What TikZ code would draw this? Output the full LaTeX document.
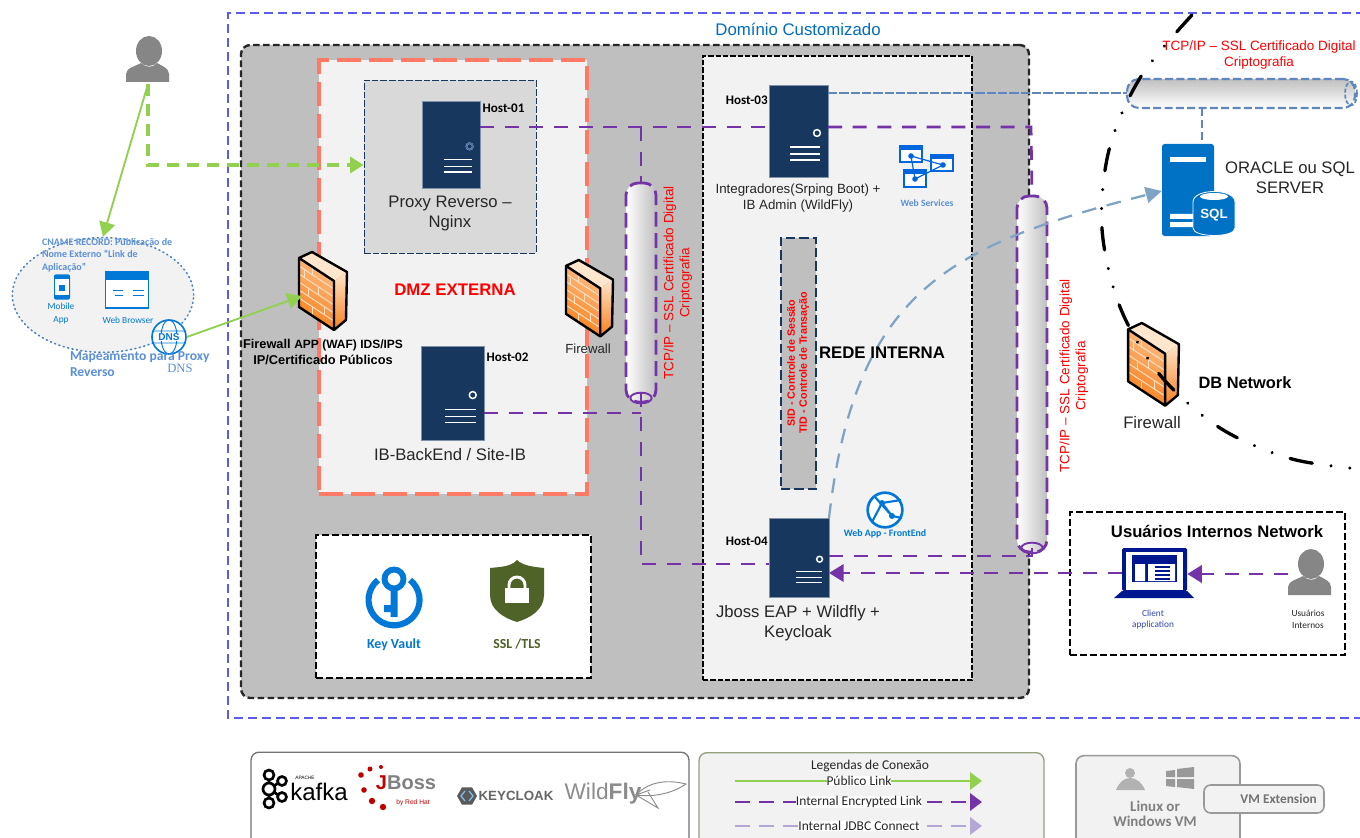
\documentclass[tikz,border=0pt]{standalone}
\usepackage{fontspec}
\setmainfont{Liberation Sans}
\newfontfamily\calib{Carlito}
\newfontfamily\dejaser{Liberation Serif}
\usetikzlibrary{arrows.meta,shapes.geometric,calc}
\definecolor{navy}{HTML}{17375E}
\definecolor{grayfill}{HTML}{BFBFBF}
\definecolor{panel}{HTML}{F2F2F2}
\definecolor{salmon}{HTML}{FF7A66}
\definecolor{domblue}{HTML}{5B5BF0}
\definecolor{purp}{HTML}{7434A8}
\definecolor{lpurp}{HTML}{B4A7D6}
\definecolor{grn}{HTML}{92D050}
\definecolor{jdbc}{HTML}{7FA3C4}
\definecolor{steel}{HTML}{5F86BD}
\definecolor{azure}{HTML}{0072C6}
\definecolor{azlight}{HTML}{0078D7}
\definecolor{lblue}{HTML}{5B8FD9}
\definecolor{olive}{HTML}{4F6228}
\definecolor{deepblue}{HTML}{00188F}
\definecolor{fwA}{HTML}{F7801C}
\definecolor{fwB}{HTML}{FFE6CC}
\definecolor{fwC}{HTML}{FFBE85}
\definecolor{brick}{HTML}{FBE3C8}
\tikzset{
 purpline/.style={purp,line width=2.1pt,dash pattern=on 10.5pt off 8pt},
 purparrow/.style={purpline,-{Triangle[length=11pt,width=13pt]}},
 steelline/.style={steel,line width=1.4pt,dash pattern=on 7pt off 1.5pt},
 steeldash/.style={steel,line width=1.6pt,dash pattern=on 6pt off 3pt},
 greenline/.style={grn,line width=1.4pt,-{Triangle[length=11pt,width=12pt]}},
 greendash/.style={grn,line width=2.3pt,dash pattern=on 9pt off 6pt,-{Triangle[length=10pt,width=12pt]}},
 blackdash/.style={black!85,line width=1.8pt,dash pattern=on 5pt off 2.5pt},
 srvbox/.style={fill=navy,draw=navy!55!white,line width=.6pt,inner sep=0pt,outer sep=0pt},
 lbl/.style={inner sep=0pt,outer sep=0pt,align=center,text=black!85},
 tA/.style={lbl,font=\fontsize{12.5}{15}\selectfont},
 tB/.style={lbl,font=\fontsize{10}{12}\selectfont},
 hostlbl/.style={lbl,font=\calib\fontsize{9.8}{11}\selectfont\bfseries,text=black},
 cyl/.style={inner sep=0pt,outer sep=0pt,rounded corners=9pt},
 redtxt/.style={lbl,text=red,font=\fontsize{10.1}{12}\selectfont},
 smallblue/.style={lbl,text=azlight,font=\calib\fontsize{7}{9}\selectfont},
 firewall/.pic={
  \fill[top color=fwC,bottom color=fwA,shading angle=-35] (1,6)--(36,29)--(36,78)--(1,55)--cycle;
  \fill[top color=fwB,bottom color=fwA] (36,29)--(49,20)--(48,68)--(36,78)--cycle;
  \fill[fwB] (1,6)--(14,0)--(49,20)--(36,29)--cycle;
  \foreach \k in {1,...,5}{\draw[brick,line width=.7pt] (1,6+8*\k)--(36,29+8*\k);}
  \foreach \k/\a in {0/14,1/6,2/20,3/10,4/26,5/14}{
    \draw[brick,line width=.7pt] (\a,{6+8*\k+\a*23/35})--(\a,{14+8*\k+\a*23/35});}
  \draw[black,line width=1.8pt,line join=round] (1,6)--(14,0)--(49,20)--(48,68)--(36,78)--(1,55)--cycle (1,6)--(36,29)--(36,78);
 },
 person/.pic={
  \fill[gray!95] (23,15) ellipse (13 and 15);
  \fill[gray!95] (0,46) -- (0,38) .. controls (0,32) and (10,30) .. (15,27) .. controls (20,32) and (27,32) .. (31,27) .. controls (36,30) and (43,32) .. (43,38) -- (43,46) -- cycle;
 },
}
\newcommand{\serverbox}[5]{%
 \node[srvbox,minimum width={#4*0.75pt},minimum height={#5*0.75pt}] (#1) at (#2,#3) {};
 \begin{scope}[shift={(#1.south east)},scale={#5/92}]
  \draw[white,line width=1.1pt] (-11,-44) circle (3.4);
  \draw[white,line width=1.1pt] (-38,-30)--(-8,-30) (-38,-23)--(-8,-23) (-38,-17)--(-8,-17);
 \end{scope}}
\newcommand{\vcyl}[5]{%
 \node[cyl,draw=purp,line width=2.1pt,dash pattern=on 11pt off 5pt,left color=white,right color=grayfill,minimum width={#4*0.75pt},minimum height={#5*0.75pt}] (#1) at (#2,#3) {};
 \draw[purp,line width=1.4pt] ([yshift=3pt]#1.south) ellipse (8pt and 4pt);}
\begin{document}
\begin{tikzpicture}[x=0.75pt,y=-0.75pt]
\useasboundingbox (0,0) rectangle (1360,838);
\clip (0,0) rectangle (1360,838);
\fill[white] (0,0) rectangle (1360,838);
% domain
\draw[domblue,line width=1.1pt,dash pattern=on 7pt off 3.5pt] (1365,13)--(228,13)--(228,718)--(1365,718);
\node[lbl,text=azlight!90!black,font=\fontsize{12.6}{15}\selectfont] (domtitle) at (798,29) {Domínio Customizado};
% containers
\node[draw=black!75,blackdash,fill=grayfill,rounded corners=7pt,minimum width=591pt,minimum height=489.75pt,inner sep=0pt] (vnet) at (635,371.5) {};
\node[draw=salmon,line width=2.3pt,dash pattern=on 18pt off 6pt,fill=panel,minimum width=201pt,minimum height=325.5pt,inner sep=0pt] (dmz) at (453,277) {};
\node[draw=navy,line width=.7pt,dash pattern=on 5pt off 1.5pt,fill=black!15,minimum width=129pt,minimum height=129.75pt,inner sep=0pt] (proxybox) at (450,166.5) {};
\node[draw=black,line width=1.8pt,dash pattern=on 4pt off 1.5pt,fill=panel,minimum width=201.75pt,minimum height=468pt,inner sep=0pt] (rede) at (837.5,368) {};
\node[draw=navy,line width=1.2pt,dash pattern=on 7pt off 3pt,fill=grayfill,minimum width=26.25pt,minimum height=188.25pt,inner sep=0pt] (sid) at (798.5,363.5) {};
\node[draw=black,line width=1.3pt,dash pattern=on 5pt off 2.5pt,fill=white,minimum width=206.25pt,minimum height=107.25pt,inner sep=0pt] (keybox) at (453.5,606.5) {};
\node[draw=black,line width=1.3pt,dash pattern=on 5pt off 2.5pt,fill=white,minimum width=206.25pt,minimum height=107.25pt,inner sep=0pt] (userbox) at (1207.5,583.5) {};
% client ellipse
\node[ellipse,draw=steel!80!azure,line width=1.2pt,dash pattern=on .8pt off 2.6pt,line cap=round,fill=panel,minimum width=136pt,minimum height=86pt,inner sep=0pt] (clients) at (103,295) {};
\coordinate (fw1c) at (302,296);
% horizontal cylinder
\node[cyl,draw=steel,line width=1.6pt,dash pattern=on 6pt off 2.5pt,top color=grayfill,bottom color=white,minimum width=171pt,minimum height=21.75pt] (hcyl) at (1241,93.5) {};
\draw[steel,line width=1.3pt,dash pattern=on 3pt off 1.5pt] (hcyl.east) ++(-4,0) ellipse (4.5pt and 9pt);
% servers
\serverbox{h1}{451}{144.5}{58}{87}
\draw[steel!70!navy,line width=1.1pt] ([shift={(-10.4,-41.6)}]h1.south east) circle (3.2);
\serverbox{h2}{452.5}{393}{63}{94}
\serverbox{h3}{798.5}{131}{59}{92}
\serverbox{h4}{799}{557.5}{60}{79}
\coordinate (busA) at (1031,127);
\coordinate (busB) at (641,127);
\coordinate (busC) at (641,413);
\coordinate (busD) at (641,564);
\coordinate (busE) at (1032,556);
\vcyl{cA}{641}{292.5}{30}{219}
\vcyl{cB}{1032}{374}{30}{356}
\draw[purpline] (h1.east |- busA) -- (h3.west |- busA);
\draw[purpline] (h3.east |- busA) -- (busA) -- (cB.north);
\draw[purpline] (busB) -- (cA.north);
\draw[purpline] (h2.east |- busC) -- (busC);
\draw[purpline] ([yshift=7pt]cA.south) -- (busD) -- (h4.west |- busD);
\draw[purpline] (h4.east |- busE) -- (busE) -- ([yshift=7pt]cB.south);
\draw[steelline] (h3.east |- 0,93) -- (hcyl.west |- 0,93);
% sql
\node[fill=azure,rounded corners=2pt,minimum width=39pt,minimum height=69pt,inner sep=0pt] (sql) at (1188,190) {};
\fill[white] (1170,157) rectangle (1206,162);
\fill[white] (1170,214) rectangle (1196,219) (1170,222) rectangle (1196,227);
\fill[azure,draw=white,line width=.6pt] (1193,202) -- (1193,228) .. controls (1193,238) and (1235,238) .. (1235,228) -- (1235,202) .. controls (1235,188) and (1193,188) .. (1193,202) -- cycle;
\fill[white] (1214,196.5) ellipse (14 and 3.5);
\node[lbl,text=white,font=\fontsize{10}{12}\selectfont\bfseries] (sqltxt) at (1214,215) {SQL};
\draw[steeldash] (hcyl.south -| 1202,0) -- (sql.north -| 1202,0);
% jdbc
\draw[jdbc,line width=1.7pt,dash pattern=on 11pt off 8pt,-{Triangle[length=12pt,width=12pt]}] (h4.north east) .. controls (855,290) and (950,245) .. (sql.west |- 0,191);
% green
\coordinate (user) at (148,84);
\coordinate (corner) at (148,165);
\draw[greenline] (user) -- (clients.north);
\draw[greendash] (user) -- (corner) -- (proxybox.west |- corner);
% firewalls
\pic at (298,252) {firewall};
\pic[scale=.98] at (565,260) {firewall};
\pic[scale=1.06] at (1127,323) {firewall};
% DNS
\node[circle,draw=azlight,line width=1.2pt,fill=white,minimum size=25.5pt,inner sep=0pt] (dns) at (169,337) {};
\draw[azlight,line width=.7pt] (dns.center) ellipse (8 and 17) (152,331)--(186,331) (152,343)--(186,343);
\node[lbl,text=azlight,font=\fontsize{7.5}{9}\selectfont\bfseries,fill=white,inner sep=.5pt] (dnst) at (169,337) {DNS};
\draw[greenline] (dns.east) -- (fw1c);
% mobile + browser
\node[fill=azlight,rounded corners=1.5pt,minimum width=12pt,minimum height=19pt,inner sep=0pt] (mob) at (62,287) {};
\fill[white] (55,279) rectangle (69,295);
\fill[azlight] (59,285) rectangle (65,291);
\node[smallblue] (moblbl) at (61,306) {Mobile};
\node[smallblue] (applbl) at (61,320) {App};
\node[draw=azlight,line width=1.2pt,fill=white,minimum width=32pt,minimum height=27pt,inner sep=0pt] (web) at (127,290) {};
\fill[azlight] (105,272) rectangle (149,280);
\draw[azlight,line width=.6pt] (113,290)--(123,290) (115,295)--(123,295) (133,290)--(144,290) (133,295)--(144,295);
\node[smallblue] (weblbl) at (128,320) {Web Browser};
\node[lbl,anchor=north west,align=left,text=lblue,font=\calib\fontsize{7.5}{9.5}\selectfont\bfseries] (cname) at (42,238) {CNAME RECORD: Públicação de\\Nome Externo “Link de\\Aplicação”};
\node[lbl,anchor=north west,align=left,text=lblue,font=\calib\fontsize{10.2}{11.5}\selectfont\bfseries] (mapa) at (70,352) {Mapeamento para Proxy\\Reverso};
\node[lbl,text=lblue,font=\dejaser\fontsize{9.5}{11}\selectfont] (dnsl) at (180,368) {DNS};
% person
\pic at (126,36) {person};
\pic at (1288,549) {person};
% texts DMZ
\node[lbl,align=center,text=black,font=\fontsize{9.6}{11.5}\selectfont\bfseries] (fwlbl) at (323,352) {Firewall {\fontsize{9}{11}\selectfont APP (WAF) IDS/IPS}\\IP/Certificado Públicos};
\node[lbl,text=red,font=\fontsize{12.6}{14}\selectfont\bfseries] (dmzl) at (455,290) {DMZ EXTERNA};
\node[tA] (proxyl) at (450,213) {Proxy Reverso –\\Nginx};
\node[hostlbl,anchor=west] (h1l) at (h1.east |- 0,108) {\hspace{2pt}Host-01};
\node[hostlbl,anchor=west] (h2l) at (h2.east |- 0,357) {\hspace{2pt}Host-02};
\node[tA] (backl) at (450,455) {IB-BackEnd / Site-IB};
\node[lbl,font=\fontsize{9.9}{11}\selectfont] (fw2l) at (588,349) {Firewall};
\node[hostlbl,anchor=east] (h3l) at (h3.west |- 0,100) {Host-03\hspace{1pt}};
\node[hostlbl,anchor=east] (h4l) at (h4.west |- 0,541) {Host-04\hspace{1pt}};
\node[tB] (intl) at (798,198) {Integradores(Srping Boot) +\\IB Admin (WildFly)};
\node[tA] (jbl) at (798,623) {Jboss EAP + Wildfly +\\Keycloak};
\node[lbl,text=black,font=\fontsize{12.6}{14}\selectfont\bfseries] (redel) at (882,353) {REDE INTERNA};
\node[lbl,text=red,rotate=90,font=\fontsize{8}{9}\selectfont\bfseries] (sidl) at (798,363) {SID - Controle de Sessão\\TID - Controle de Transação};
\node[redtxt,rotate=90] (tcpA) at (678,283) {TCP/IP – SSL Certificado Digital\\Criptografia};
\node[redtxt,rotate=90] (tcpB) at (1074,376) {TCP/IP – SSL Certificado Digital\\Criptografia};
\node[redtxt] (tcpC) at (1259,55) {TCP/IP – SSL Certificado Digital\\Criptografia};
\node[tA] (orl) at (1290,178) {ORACLE ou SQL\\SERVER};
\node[tA] (fw3l) at (1152,423) {Firewall};
\node[lbl,text=black,font=\fontsize{12.3}{14}\selectfont\bfseries] (dbl) at (1245,383) {DB Network};
% web services icon
\begin{scope}[azlight!85!blue,line width=2pt]
 \draw[fill=white] (900,146) rectangle (922,162);
 \draw[fill=white] (931,155) rectangle (953,171);
 \draw[fill=white] (904,170) rectangle (926,187);
 \fill (900,146) rectangle (922,150) (931,155) rectangle (953,159) (904,170) rectangle (926,174);
 \draw[line width=.9pt] (911,156)--(943,165)--(915,179)--cycle;
 \fill (911,156) circle (2.8) (943,165) circle (2.8) (915,179) circle (2.8);
\end{scope}
\node[lbl,text=lblue,font=\calib\fontsize{7.2}{9}\selectfont\bfseries] (wsl) at (927,203) {Web Services};
% web app icon
\node[circle,draw=azlight,line width=2pt,fill=white,minimum size=26pt,inner sep=0pt] (wapp) at (885,510) {};
\draw[azlight,line width=1.6pt] (872,522)--(882,503)--(892,516) (882,503)--(901,500) (875,497)--(892,516)--(902,518);
\fill[azlight] (882,503) circle (3) (892,516) circle (3);
\node[lbl,text=azlight,font=\calib\fontsize{7.4}{9}\selectfont\bfseries] (wappl) at (885,534) {Web App - FrontEnd};
% key vault
\draw[azlight,line width=4.6pt] (378,580) arc[start angle=231,end angle=-51,radius=25.5];
\fill[azlight] (390.5,585) rectangle (397.5,617) (384,605) rectangle (391,612);
\draw[azlight,line width=4.4pt,fill=white] (394,579) circle (9.5);
\node[lbl,text=azlight,font=\calib\fontsize{10.4}{12}\selectfont\bfseries] (kvl) at (394,645) {Key Vault};
% shield
\fill[olive] (517,560) .. controls (523,566) and (535,567) .. (544,568) -- (544,595) .. controls (544,610) and (530,618) .. (517,622) .. controls (504,618) and (490,610) .. (490,595) -- (490,568) .. controls (499,567) and (511,567) .. (517,560) -- cycle;
\fill[white] (505,588) rectangle (529,603);
\draw[white,line width=2.2pt] (509,589) -- (509,585) arc[start angle=180,end angle=360,radius=8] -- (525,589);
\node[lbl,text=olive,font=\calib\fontsize{10.4}{12}\selectfont\bfseries] (ssll) at (517,644) {SSL /TLS};
% users box
\node[lbl,text=black,font=\fontsize{12.5}{14}\selectfont\bfseries] (ubt) at (1217,531) {Usuários Internos Network};
\node[fill=deepblue,rounded corners=1pt,minimum width=48.75pt,minimum height=32pt,inner sep=0pt] (laptop) at (1154.5,569.5) {};
\fill[white] (1126,552) rectangle (1183,590);
\fill[deepblue] (1132,555) rectangle (1177,582);
\fill[white] (1135,564) rectangle (1145,581) (1148,564) rectangle (1175,581);
\foreach \yy in {566,570,574,578}{\fill[deepblue] (1155,\yy) rectangle (1170,\yy+2.4);}
\fill[deepblue] (1114,598) -- (1122,591) -- (1187,591) -- (1194,598) -- cycle;
\node[lbl,text=deepblue!80,font=\calib\fontsize{7}{8.8}\selectfont] (cal) at (1153,619.5) {Client\\application};
\node[lbl,font=\calib\fontsize{7}{8.8}\selectfont] (uil) at (1308,619) {Usuários\\Internos};
\coordinate (uperson) at (1288,574);
\draw[purparrow] (uperson) -- (laptop.east |- uperson);
\draw[purparrow] (laptop.west |- 0,573) -- (h4.east |- 0,573);
% boundary
\draw[black,line width=2.5pt,line cap=round,dash pattern=on 17pt off 14.2pt on .01pt off 14.2pt on .01pt off 14.2pt] plot[smooth,tension=.55] coordinates {(1192,15) (1140,78) (1109,150) (1102,229) (1120,307) (1160,375) (1220,428) (1292,459) (1370,470)};
% legend logos
\node[draw=black!55,line width=1pt,fill=white,rounded corners=6pt,minimum width=328.5pt,minimum height=80pt,inner sep=0pt] (logos) at (470,805.5) {};
\begin{scope}[black,line width=2pt]
 \draw (269,775) circle (5) (269,803) circle (5) (269,789) circle (6) (282,781) circle (4.5) (282,797) circle (4.5);
 \draw (269,780)--(269,783) (269,795)--(269,798) (274,786)--(278,783) (274,792)--(278,795);
\end{scope}
\node[lbl,text=black,font=\fontsize{3.6}{4}\selectfont] (apache) at (305,778) {APACHE};
\node[lbl,text=black,font=\fontsize{18}{20}\selectfont] (kafka) at (319,792) {kafka};
\fill[red!75!black] (361,775) circle (2.8) (364,790) circle (2.8) (370,769) circle (2.5) (381,767) circle (2) (372,801) circle (3.2) (383,807) circle (3.2);
\node[lbl,text=gray,font=\fontsize{15}{17}\selectfont\bfseries] (jboss) at (406,783) {{\color{red!75!black}J}Boss};
\node[lbl,text=red!75!black,font=\fontsize{5}{6}\selectfont] (rh) at (413,803) {by Red Hat};
\node[regular polygon,regular polygon sides=6,fill=black!65,minimum size=15pt,inner sep=0pt] (khex) at (467,796) {};
\draw[azure!50!white,line width=1pt] (465,791)--(461,796)--(465,801) (469,791)--(473,796)--(469,801);
\node[lbl,text=black!60,font=\fontsize{10}{12}\selectfont\bfseries] (kc) at (516,796) {KEYCLOAK};
\node[lbl,text=black!45,font=\fontsize{17}{20}\selectfont] (wf) at (603,794) {Wild{\bfseries Fly}};
\draw[black!45,line width=.7pt] (636,795) .. controls (650,780) and (670,780) .. (686,784) .. controls (670,795) and (650,797) .. (636,795) -- (658,808) -- (648,792) (636,795) -- (650,790);
% legend
\node[draw=olive!60,line width=1pt,fill=panel,rounded corners=6pt,minimum width=258.75pt,minimum height=80pt,inner sep=0pt] (legend) at (871.5,806) {};
\coordinate (la) at (735,781); \coordinate (lb) at (982,781);
\coordinate (lc) at (735,802); \coordinate (ld) at (982,802);
\coordinate (le) at (735,826); \coordinate (lf) at (982,826);
\draw[grn,line width=2pt,-{Triangle[length=9pt,width=13pt]}] (la) -- (lb);
\draw[purp,line width=2pt,dash pattern=on 11pt off 7pt,-{Triangle[length=9pt,width=13pt]}] (lc) -- (ld);
\draw[lpurp,line width=2pt,dash pattern=on 11pt off 7pt,-{Triangle[length=9pt,width=13pt]}] (le) -- (lf);
\node[lbl,font=\calib\fontsize{10.1}{11}\selectfont] (legt) at (870,766) {Legendas de Conexão};
\node[lbl,fill=white,font=\calib\fontsize{10.1}{11}\selectfont] (l1) at (859,781) {Público Link};
\node[lbl,fill=white,font=\calib\fontsize{10.1}{11}\selectfont] (l2) at (859,802) {Internal Encrypted Link};
\node[lbl,fill=white,font=\calib\fontsize{10.1}{11}\selectfont] (l3) at (859,826) {Internal JDBC Connect};
% vm
\node[draw=black!40,line width=1.2pt,fill=panel,rounded corners=6pt,minimum width=123pt,minimum height=80pt,inner sep=0pt] (vm) at (1158,809) {};
\node[lbl,text=black!50,font=\calib\fontsize{11.2}{10.8}\selectfont\bfseries] (vml) at (1155,814) {Linux or\\Windows VM};
\fill[black!30] (1130,773) circle (5) (1116,790) .. controls (1122,774) and (1138,774) .. (1145,790) -- cycle;
\fill[black!40] (1166,771) -- (1175,770) -- (1175,777) -- (1166,777) -- cycle (1177,769) -- (1194,767) -- (1194,777) -- (1177,777) -- cycle (1166,779) -- (1175,779) -- (1175,787) -- (1166,786) -- cycle (1177,779) -- (1194,779) -- (1194,789) -- (1177,787) -- cycle;
\node[draw=black!40,line width=1.2pt,fill=panel,rounded corners=5pt,minimum width=90pt,minimum height=21pt,inner sep=0pt,text=black!55,font=\calib\fontsize{10}{12}\selectfont\bfseries] (vmx) at (1264,799) {\hspace*{22pt}VM Extension};
\end{tikzpicture}
\end{document}
